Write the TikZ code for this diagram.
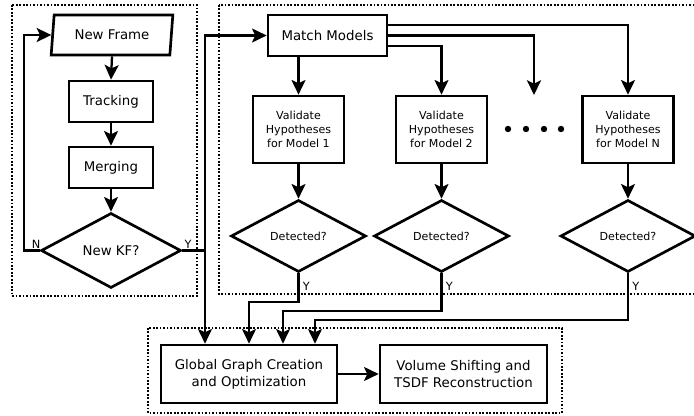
\documentclass[tikz,border=0pt]{standalone}
\usepackage{fontspec}
\setmainfont{DejaVu Sans}
\usetikzlibrary{shapes.geometric,arrows.meta,calc}
\begin{document}
\begin{tikzpicture}[x=0.75pt,y=-0.75pt,
  box/.style={draw,line width=2pt,inner sep=0pt,align=center,font=\fontsize{10}{12.5}\selectfont},
  vbox/.style={draw,line width=2pt,inner sep=0pt,align=center,minimum width=68.25pt,minimum height=50.25pt,font=\fontsize{8.3}{10.5}\selectfont},
  dia/.style={draw,diamond,line width=2pt,inner sep=0pt,align=center,minimum width=101.25pt,minimum height=54pt,font=\fontsize{8.3}{10}\selectfont},
  arr/.style={line width=1.7pt,-{Stealth[length=11pt,width=10.5pt,inset=2.5pt]}},
  ln/.style={line width=1.7pt},
  grp/.style={line width=1.5pt,dash pattern=on 1.3pt off 1.3pt},
  lab/.style={font=\fontsize{8.5}{10}\selectfont,inner sep=0pt}]
\useasboundingbox (0,0) rectangle (694,416);
% group boxes
\draw[grp] (12,5) rectangle (197,296);
\draw[grp] (219,5) rectangle (705,294);
\draw[grp] (148,328) rectangle (562,413);
% left column
\node[draw,trapezium,trapezium left angle=79,trapezium right angle=101,trapezium stretches=true,line width=2pt,inner sep=0pt,minimum width=91.5pt,minimum height=30pt,font=\fontsize{10}{12.5}\selectfont] (nf) at (112,35) {New Frame};
\node[box,minimum width=63pt,minimum height=30.75pt] (tr) at (111,101.5) {Tracking};
\node[box,minimum width=63pt,minimum height=30.75pt] (me) at (111,167.5) {Merging};
\node[dia,minimum width=105pt,minimum height=56.25pt,font=\fontsize{10}{12.5}\selectfont] (kf) at (111,250.5) {New KF?};
% right group
\node[box,minimum width=89.25pt,minimum height=30.75pt] (mm) at (327.5,35.5) {Match Models};
\node[vbox] (v1) at (298.5,129.5) {Validate\\Hypotheses\\for Model 1};
\node[vbox] (v2) at (441.5,129.5) {Validate\\Hypotheses\\for Model 2};
\node[vbox] (vn) at (628,129.5) {Validate\\Hypotheses\\for Model N};
\node[dia] (d1) at (298.5,236) {Detected?};
\node[dia] (d2) at (441.5,236) {Detected?};
\node[dia] (dn) at (628,236) {Detected?};
\foreach \x in {508,526,544,561} \fill (\x,129) circle (3.2);
\coordinate (dd) at (534,95);
% bottom group
\node[box,minimum width=132pt,minimum height=43.5pt] (gg) at (249,374) {Global Graph Creation\\and Optimization};
\node[box,minimum width=125.25pt,minimum height=43.5pt] (vs) at (463.5,374) {Volume Shifting and\\TSDF Reconstruction};
% left connectors
\draw[arr] (nf.south) -- (tr.north);
\draw[arr] (tr.south) -- (me.north);
\draw[arr] (me.south) -- (kf.north);
\draw[arr] (kf.west) -- ++(-16,0) |- (nf.west);
\node[lab,anchor=south west] at ($(kf.west)+(-8,-1.5)$) {N};
\node[lab,anchor=south west] at ($(kf.east)+(2,-1.5)$) {Y};
\coordinate (j) at (205,250.5);
\draw[ln] (kf.east) -- (j);
\draw[arr] (j) |- (mm.west);
\draw[arr] (j) -- (j |- gg.north);
% match models fan-out
\draw[arr] (v1.north |- mm.south) -- (v1.north);
\draw[arr] ($(mm.east)+(0,10.5)$) -| (v2.north);
\draw[arr] (mm.east) -| (dd);
\draw[arr] ($(mm.east)+(0,-10.5)$) -| (vn.north);
\draw[arr] (v1.south) -- (d1.north);
\draw[arr] (v2.south) -- (d2.north);
\draw[arr] (vn.south) -- (dn.north);
% detections to global graph
\draw[arr] (d1.south) -- ++(0,29) -| (gg.north);
\draw[arr] (d2.south) -- ++(0,38) -| ($(gg.north)+(34,0)$);
\draw[arr] (dn.south) -- ++(0,47) -| ($(gg.north)+(66,0)$);
\node[lab,anchor=west] at ($(d1.south)+(4,13)$) {Y};
\node[lab,anchor=west] at ($(d2.south)+(4,13)$) {Y};
\node[lab,anchor=west] at ($(dn.south)+(4,13)$) {Y};
\draw[arr] (gg.east) -- (vs.west);
\end{tikzpicture}
\end{document}
